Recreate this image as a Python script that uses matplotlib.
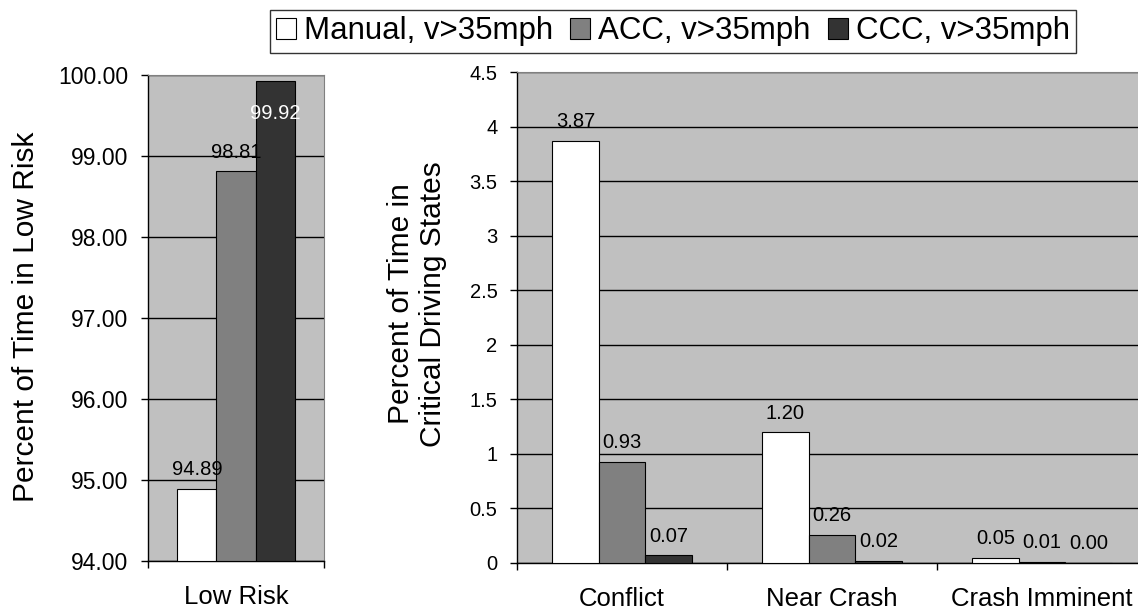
import matplotlib
matplotlib.use('Agg')
import matplotlib.pyplot as plt
from matplotlib.ticker import MultipleLocator, FuncFormatter, FixedLocator
from matplotlib.patches import Patch

plt.rcParams['font.family'] = ['Liberation Sans', 'DejaVu Sans']

# data
series = ['Manual, v>35mph', 'ACC, v>35mph', 'CCC, v>35mph']
colors = ['#FFFFFF', '#808080', '#333333']

low_cats = ['Low Risk']
low_vals = [[94.89], [98.81], [99.92]]

crit_cats = ['Conflict', 'Near Crash', 'Crash Imminent']
crit_vals = [[3.87, 1.20, 0.05],
             [0.93, 0.26, 0.01],
             [0.07, 0.02, 0.00]]

W, H = 1138, 614
fig = plt.figure(figsize=(W / 100, H / 100), dpi=100)
fig.patch.set_facecolor('white')

ax1 = fig.add_axes([148 / W, 1 - 561 / H, 176 / W, (561 - 75) / H])
ax2 = fig.add_axes([517 / W, 1 - 563 / H, 630 / W, (563 - 72) / H])

bw = 1 / 4.5


def draw(ax, cats, vals, base, tick_size, fmt):
    ax.set_facecolor('#C0C0C0')
    ax.set_axisbelow(True)
    ax.yaxis.grid(True, color='black', lw=1)
    n = len(cats)
    for i, (v, c) in enumerate(zip(vals, colors)):
        xs = [k + (i - 1) * bw for k in range(n)]
        ax.bar(xs, [y - base for y in v], bw, bottom=base, color=c,
               edgecolor='black', lw=0.8, zorder=3)
        for x, y in zip(xs, v):
            if y > 99.5:
                # no room above the bar, label goes inside in white
                ax.annotate(fmt % y, (x, y), xytext=(0, -23), textcoords='offset points',
                            ha='center', va='center', fontsize=14.5, color='white', zorder=4)
            else:
                ax.annotate(fmt % y, (x, y), xytext=(0, 13.7), textcoords='offset points',
                            ha='center', va='center', fontsize=14.5, color='black', zorder=4)
    ax.set_xlim(-0.5, n - 0.5)
    ax.xaxis.set_major_locator(FixedLocator([k - 0.5 for k in range(n + 1)]))
    ax.xaxis.set_major_formatter(FuncFormatter(lambda v, p: ''))
    ax.xaxis.set_minor_locator(FixedLocator(list(range(n))))
    ax.set_xticklabels(cats, minor=True)
    ax.tick_params(axis='x', which='major', direction='out', length=5, width=1, color='black')
    ax.tick_params(axis='x', which='minor', length=0, pad=17, labelsize=18.5)
    ax.tick_params(axis='y', direction='out', length=5, width=1, pad=9, labelsize=tick_size)
    for s in ['left', 'bottom']:
        ax.spines[s].set_color('black')
        ax.spines[s].set_linewidth(1)
    for s in ['top', 'right']:
        ax.spines[s].set_color('#808080')
        ax.spines[s].set_linewidth(0.8)


draw(ax1, low_cats, low_vals, 94, 16.5, '%.2f')
ax1.set_ylim(94, 100)
ax1.yaxis.set_major_locator(MultipleLocator(1))
ax1.yaxis.set_major_formatter(FuncFormatter(lambda v, p: '%.2f' % v))

draw(ax2, crit_cats, crit_vals, 0, 14.5, '%.2f')
ax2.set_ylim(0, 4.5)
ax2.yaxis.set_major_locator(MultipleLocator(0.5))
ax2.yaxis.set_major_formatter(FuncFormatter(lambda v, p: '%g' % v))
ax2.spines['right'].set_visible(False)

fig.text(26 / W, 1 - 317 / H, 'Percent of Time in Low Risk', rotation=90,
         ha='center', va='center', fontsize=21.5)
fig.text(417 / W, 1 - 304 / H, 'Percent of Time in\nCritical Driving States', rotation=90,
         ha='center', va='center', fontsize=21.5, linespacing=1.2)

handles = [Patch(facecolor=c, edgecolor='black', lw=0.8) for c in colors]
leg = fig.legend(handles, series, loc='upper center', bbox_to_anchor=(673 / W, 1 - 10 / H),
                 ncol=3, fontsize=22.5, frameon=True, fancybox=False, edgecolor='black',
                 handlelength=0.64, handleheight=0.64, handletextpad=0.25,
                 columnspacing=0.55, borderpad=0.2, borderaxespad=0)
leg.get_frame().set_linewidth(1)

fig.savefig('out.png', dpi=100)
